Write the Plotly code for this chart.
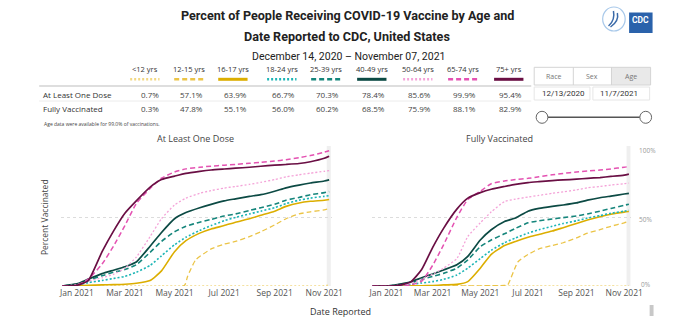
import plotly.graph_objects as go
from datetime import date, timedelta

# ---------------- DATA ----------------
DATES = ["2020-12-14", "2021-01-01", "2021-01-15", "2021-02-01", "2021-02-15", "2021-03-01",
         "2021-03-15", "2021-04-01", "2021-04-15", "2021-05-01", "2021-05-15", "2021-06-01",
         "2021-06-15", "2021-07-01", "2021-07-15", "2021-08-01", "2021-08-15", "2021-09-01",
         "2021-09-15", "2021-10-01", "2021-10-15", "2021-11-01", "2021-11-07"]

AGE_GROUPS = ["<12 yrs", "12-15 yrs", "16-17 yrs", "18-24 yrs", "25-39 yrs",
              "40-49 yrs", "50-64 yrs", "65-74 yrs", "75+ yrs"]
ONE_DOSE_PCT = [0.7, 57.1, 63.9, 66.7, 70.3, 78.4, 85.6, 99.9, 95.4]
FULLY_PCT = [0.3, 47.8, 55.1, 56.0, 60.2, 68.5, 75.9, 88.1, 82.9]

# At Least One Dose (percent)
OD_U12 = [0] * 21 + [0.2, 0.7]
OD_12_15_DATES = ["2020-12-14", "2021-05-13", "2021-05-17", "2021-05-27", "2021-06-15", "2021-07-01",
                  "2021-07-15", "2021-08-01", "2021-08-15", "2021-09-01", "2021-09-15", "2021-10-01",
                  "2021-10-15", "2021-11-01", "2021-11-07"]
OD_12_15 = [0, 0.4, 7, 19, 27, 30.5, 32.5, 36, 39.5, 44.5, 49, 52.5, 54, 55.5, 56.3]
OD_16_17 = [0, 0.2, 0.5, 0.8, 1, 1.3, 2, 4, 11, 25, 33, 38.5, 41.5, 44, 46.5, 49, 51.5, 54.5, 58, 60.5, 61.7, 62.5, 63]
OD_18_24 = [0, 0.8, 2.5, 4, 5.5, 7, 10, 15, 22, 30, 35.5, 40.5, 44, 47.5, 50, 52.5, 54.5, 57, 60, 62.5, 64, 65.3, 65.8]
OD_25_39 = [0, 1.2, 4, 7.5, 10, 12, 15.5, 24.5, 32.5, 39.5, 43.5, 46.5, 48.5, 51, 52.5, 55, 57, 59.5, 62.5, 64.5, 66.5, 68, 68.8]
OD_40_49 = [0, 1.5, 5, 9, 11.5, 14, 17.5, 29, 39, 49, 53.5, 57, 59.5, 62, 63.5, 65.3, 66.5, 69, 71.5, 73.5, 75, 76.5, 77.3]
OD_50_64 = [0, 1, 3.5, 6, 8.5, 13, 21, 36, 49, 59, 64, 67.5, 69.5, 71.3, 72.5, 74, 75.5, 77.5, 79.5, 81, 82.2, 83.5, 84]
OD_65_74 = [0, 0.5, 5, 16, 29, 44, 60, 71, 78.5, 83, 85.3, 86.5, 87.3, 88, 88.6, 89.4, 90, 91, 92, 93.5, 95, 97.5, 98.5]
OD_75P = [0, 0.5, 4, 25, 40, 53, 62, 72, 77.5, 80, 82, 83.5, 84.5, 85.2, 85.8, 86.5, 87.2, 88, 88.5, 89.2, 90.5, 93, 94.5]

# Fully Vaccinated (percent)
FV_U12 = [0] * 22 + [0.3]
FV_12_15_DATES = ["2020-12-14", "2021-06-01", "2021-06-05", "2021-06-18", "2021-07-01", "2021-07-15",
                  "2021-08-01", "2021-08-15", "2021-09-01", "2021-09-15", "2021-10-01", "2021-10-15",
                  "2021-11-01", "2021-11-07"]
FV_12_15 = [0, 0.4, 0.8, 17.5, 23, 27, 29.5, 31.5, 35, 38.5, 41, 43.5, 46, 47]
FV_16_17 = [0, 0, 0, 0.1, 0.2, 0.4, 0.8, 1.2, 3.2, 13, 23, 29.5, 32.5, 35.5, 37.5, 40, 42.5, 45.5, 48, 50.5, 52.3, 53.8, 54.2]
FV_18_24 = [0, 0, 0.3, 1.2, 2.2, 3.2, 4.8, 8, 13, 20, 26, 31.5, 35, 38.5, 41, 43.5, 45.5, 47.5, 49.5, 51.3, 53, 54.5, 55.2]
FV_25_39 = [0, 0, 0.8, 2.4, 4.8, 7, 9.2, 13, 19, 28.6, 33.5, 38, 42, 46, 47.5, 48.8, 49.8, 51, 52.5, 54.5, 56.5, 58.8, 59.6]
FV_40_49 = [0, 0, 1, 3, 6, 8.7, 11.7, 15.5, 21.6, 33.5, 41, 47, 49.5, 54.5, 56.5, 58, 59, 60.5, 62.5, 64.3, 65.5, 67, 67.5]
FV_50_64 = [0, 0, 0.5, 2, 5, 8.5, 13, 20, 36, 46, 54, 61.5, 63.3, 64.8, 66, 67.5, 68.5, 70, 71.5, 72.5, 73.5, 74.5, 75]
FV_65_74 = [0, 0, 0.1, 0.8, 3.5, 15, 30, 50, 63, 69, 74.5, 76.5, 77.5, 78.4, 79.5, 81, 82, 83, 83.7, 84.5, 85.3, 86.5, 87]
FV_75P = [0, 0, 0.3, 3, 12, 28, 42, 56, 64, 68, 70.5, 72.5, 74, 75.3, 76, 76.8, 77.3, 77.8, 78.4, 79, 79.8, 80.8, 81.5]

TICK_DATES = ["2021-01-01", "2021-03-01", "2021-05-01", "2021-07-01", "2021-09-01", "2021-11-01"]
TICK_LABELS = ["Jan 2021", "Mar 2021", "May 2021", "Jul 2021", "Sep 2021", "Nov 2021"]
Y_TICKS = [0, 50, 100]
Y_TICK_LABELS = ["0%", "50%", "100%"]

TITLE_1 = "Percent of People Receiving COVID-19 Vaccine by Age and"
TITLE_2 = "Date Reported to CDC, United States"
SUBTITLE = "December 14, 2020 \u2013 November 07, 2021"
PANEL_TITLES = ["At Least One Dose", "Fully Vaccinated"]
FOOTNOTE = "Age data were available for 99.0% of vaccinations."

# ---------------- STYLE ----------------
COLORS = ["#f2d883", "#ebc447", "#dcae00", "#1cb5b5", "#15857b", "#0c4a44", "#f4a3d8", "#e452b2", "#6a0f44"]
DASHES = ["2px,2px", "5px,3px", "solid", "2px,2px", "5px,3px", "solid", "2px,2px", "5px,3px", "solid"]
WIDTHS = [1.3, 1.3, 1.6, 1.6, 1.6, 1.7, 1.3, 1.5, 1.7]

W, H = 690, 320
def px(x): return x / W
def py(y): return 1 - y / H

FONT = "Open Sans, Roboto, sans-serif"
NFONT = "Roboto, sans-serif"

fig = go.Figure()

od_series = [(DATES, OD_U12), (OD_12_15_DATES, OD_12_15), (DATES, OD_16_17), (DATES, OD_18_24),
             (DATES, OD_25_39), (DATES, OD_40_49), (DATES, OD_50_64), (DATES, OD_65_74), (DATES, OD_75P)]
fv_series = [(DATES, FV_U12), (FV_12_15_DATES, FV_12_15), (DATES, FV_16_17), (DATES, FV_18_24),
             (DATES, FV_25_39), (DATES, FV_40_49), (DATES, FV_50_64), (DATES, FV_65_74), (DATES, FV_75P)]

shapes = []
last = date.fromisoformat(DATES[-1])
for xa, ya in (("x", "y"), ("x2", "y2")):
    shapes.append(dict(type="rect", xref=xa, yref=ya + " domain",
                       x0=(last - timedelta(days=3)).isoformat(), x1=(last + timedelta(days=2)).isoformat(),
                       y0=0, y1=1.02, fillcolor="#efefef", line=dict(width=0), layer="below"))

for panel, series, xa, ya in ((0, od_series, "x", "y"), (1, fv_series, "x2", "y2")):
    for i, (xs, ys) in enumerate(series):
        fig.add_trace(go.Scatter(
            x=xs, y=ys, mode="lines", name=AGE_GROUPS[i], xaxis=xa, yaxis=ya,
            line=dict(color=COLORS[i], dash=DASHES[i], width=WIDTHS[i], shape="spline", smoothing=0.5),
            hoverinfo="skip", showlegend=False))

x_range = ["2020-12-13", "2021-11-10"]
common_x = dict(range=x_range, tickvals=TICK_DATES, ticktext=TICK_LABELS, showgrid=False,
                showline=False, zeroline=False, ticks="", tickfont=dict(size=8.5, color="#555", family=FONT))
common_y = dict(range=[0, 100], tickvals=Y_TICKS, showgrid=True, gridcolor="#dcdcdc", griddash="dot",
                gridwidth=1, zeroline=False, showline=False, ticks="", showticklabels=False)
fig.update_layout(
    width=W, height=H, margin=dict(l=0, r=0, t=0, b=0),
    paper_bgcolor="white", plot_bgcolor="white", showlegend=False,
    xaxis=dict(domain=[px(59.7), px(335.9)], anchor="y", **common_x),
    xaxis2=dict(domain=[px(376.8), px(642.2)], anchor="y2", **common_x),
    yaxis=dict(domain=[py(286), py(148.7)], anchor="x", **common_y),
    yaxis2=dict(domain=[py(286), py(148.7)], anchor="x2", **common_y),
)

ann = []
def text(x, y, s, size, color="#333", xanchor="center", family=FONT, **kw):
    ann.append(dict(x=px(x), y=py(y), xref="paper", yref="paper", text=s, showarrow=False,
                    xanchor=xanchor, yanchor="middle", font=dict(size=size, color=color, family=family), **kw))

text(352, 15, "<b>" + TITLE_1 + "</b>", 12.6, "#222", family=NFONT)
text(352, 36, "<b>" + TITLE_2 + "</b>", 12.6, "#222", family=NFONT)
text(353, 56.5, SUBTITLE, 10.5, "#222", family=NFONT)

# right-panel percent labels
for v, lab in zip(Y_TICKS, Y_TICK_LABELS):
    ann.append(dict(x=1.0, y=v, xref="x2 domain", yref="y2", text=lab, showarrow=False,
                    xanchor="left", yanchor="middle", xshift=9 if v == 0 else 7, yshift=1.5 if v == 0 else -2,
                    borderpad=0, font=dict(size=6.5, color="#999", family=FONT)))

# table
col_right = [161, 206, 251, 301, 346, 393, 440, 486, 533]
for i, g in enumerate(AGE_GROUPS):
    r = col_right[i]
    text(r - 16, 69, g, 7.5, "#333")
    d = DASHES[i]
    shapes.append(dict(type="line", xref="paper", yref="paper", x0=px(r - 31), x1=px(r - 1),
                       y0=py(79.3), y1=py(79.3), line=dict(color=COLORS[i], width=3 if d == "solid" else 2.5, dash=d)))
    text(r, 94.3, f"{ONE_DOSE_PCT[i]:.1f}%", 8, "#444", xanchor="right")
    text(r, 108.3, f"{FULLY_PCT[i]:.1f}%", 8, "#444", xanchor="right")
text(39, 94.3, "At Least One Dose", 8, "#333", xanchor="left")
text(39, 108.3, "Fully Vaccinated", 8, "#333", xanchor="left")
text(40, 124, FOOTNOTE, 5, "#444", xanchor="left")
shapes.append(dict(type="line", xref="paper", yref="paper", x0=px(37), x1=px(540), y0=py(86), y1=py(86),
                   line=dict(color="#bdbdbd", width=1)))
shapes.append(dict(type="line", xref="paper", yref="paper", x0=px(37), x1=px(540), y0=py(101), y1=py(101),
                   line=dict(color="#ececec", width=1)))

# panel titles and axis titles
text(197, 138, PANEL_TITLES[0], 9, "#444")
text(508, 138, PANEL_TITLES[1], 9, "#444")
text(42, 217, "Percent Vaccinated", 8.5, "#444", textangle=-90)
text(345, 311, "Date Reported", 9, "#333")

# controls (Race / Sex / Age; date boxes; slider)
shapes.append(dict(type="rect", xref="paper", yref="paper", x0=px(622), x1=px(662), y0=py(85), y1=py(67.3),
                   fillcolor="#e9e9e9", line=dict(width=0)))
shapes.append(dict(type="rect", xref="paper", yref="paper", x0=px(543), x1=px(662), y0=py(85), y1=py(67.3),
                   line=dict(color="#d4d4d4", width=1)))
for xv in (583, 622):
    shapes.append(dict(type="line", xref="paper", yref="paper", x0=px(xv), x1=px(xv), y0=py(85), y1=py(67.3),
                       line=dict(color="#d4d4d4", width=1)))
text(563, 76, "Race", 7, "#777")
text(602.5, 76, "Sex", 7, "#777")
text(642, 76, "Age", 7, "#777")
for x0, x1 in ((543, 600), (603, 661)):
    shapes.append(dict(type="rect", xref="paper", yref="paper", x0=px(x0), x1=px(x1), y0=py(100), y1=py(87),
                       line=dict(color="#e6e6e6", width=1)))
text(548.5, 93.5, "12/13/2020", 8, "#333", xanchor="left", family=NFONT)
text(608, 93.5, "11/7/2021", 8, "#333", xanchor="left", family=NFONT)
shapes.append(dict(type="line", xref="paper", yref="paper", x0=px(551), x1=px(657), y0=py(117.3), y1=py(117.3),
                   line=dict(color="#555", width=1.5)))
for cx in (551, 657):
    shapes.append(dict(type="circle", xref="paper", yref="paper", x0=px(cx - 6), x1=px(cx + 6),
                       y0=py(117.3 + 6), y1=py(117.3 - 6), fillcolor="white", line=dict(color="#666", width=1)))

# logos
shapes.append(dict(type="circle", xref="paper", yref="paper", x0=px(613), x1=px(636), y0=py(31), y1=py(7),
                   line=dict(color="#a9c9ea", width=1.2)))
shapes.append(dict(type="path", xref="paper", yref="paper",
                   path=f"M {px(619)},{py(26)} Q {px(626)},{py(20)} {px(624)},{py(11)} M {px(621)},{py(27)} Q {px(630)},{py(21)} {px(628)},{py(13)}",
                   line=dict(color="#3a6aa8", width=1.5)))
shapes.append(dict(type="rect", xref="paper", yref="paper", x0=px(640), x1=px(664), y0=py(33), y1=py(12.5),
                   fillcolor="#2a62ab", line=dict(width=0)))
text(652, 20, "<b>CDC</b>", 8.5, "white", family=NFONT)
shapes.append(dict(type="rect", xref="paper", yref="paper", x0=px(661), x1=px(665), y0=py(316), y1=py(305),
                   fillcolor="#c8c8c8", line=dict(width=0)))

fig.update_layout(annotations=ann, shapes=shapes)
fig.write_html("out.html")
